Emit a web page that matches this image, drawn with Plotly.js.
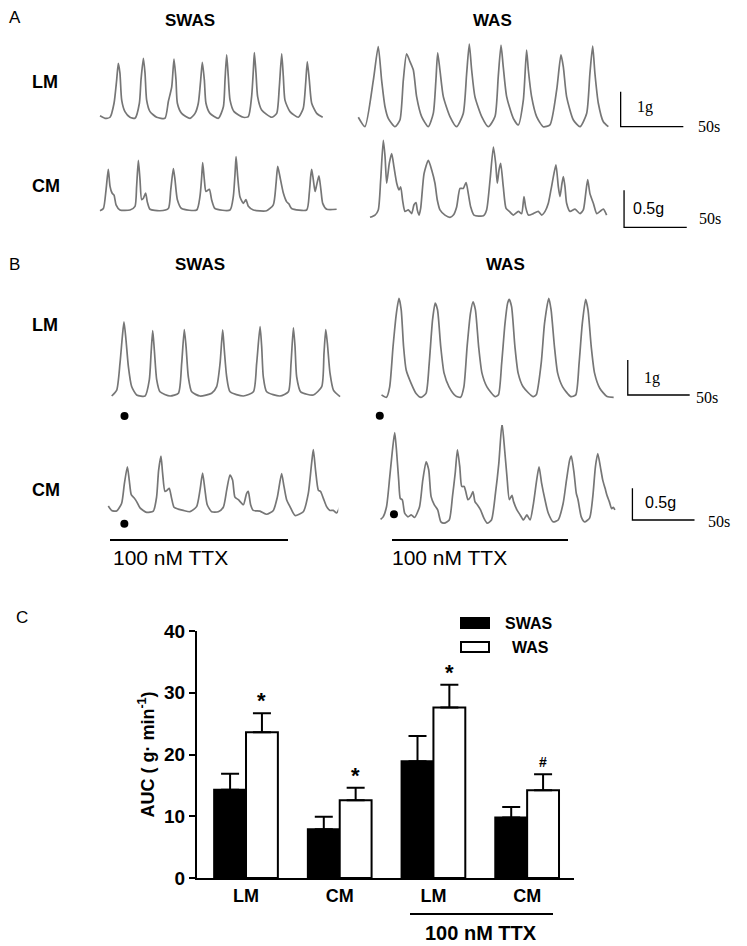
<!DOCTYPE html>
<html><head><meta charset="utf-8">
<script src="https://cdn.plot.ly/plotly-3.0.1.min.js"></script>
<style>html,body{margin:0;padding:0;background:#fff}</style>
</head><body><div id="chart" style="width:747px;height:946px"></div>
<script>
// ---------- Panel A: LM, SWAS (time s, force g)
const aLmSwasT=[0,4.0,8.0,11.2,13.3,14.6,15.9,17.3,19.9,23.9,27.9,31.4,32.7,34.6,35.9,37.2,39.9,45.2,51.8,54.5,57.2,59.0,60.6,61.7,65.1,71.8,75.8,78.4,80.3,81.6,83.2,84.5,87.7,94.4,98.4,99.7,101.0,102.3,103.7,106.9,114.3,118.3,120.9,122.3,123.1,124.4,125.7,128.9,136.9,140.9,143.0,144.9,146.2,147.5,151.5,158.2,162.1,164.0,165.3,166.9,168.8,172.8,177.6];
const aLmSwasG=[0.07,0,0.03,0.43,1.10,1.57,1.29,0.52,0.19,0.03,0,0.43,1.10,1.71,1.29,0.52,0.19,0.03,0,0.48,0.90,1.69,1.10,0.43,0.14,0,0.14,0.43,1.10,1.60,1.10,0.43,0.14,0,0.33,1.10,1.81,1.19,0.52,0.19,0.03,0.05,0.62,1.38,1.88,1.29,0.62,0.24,0.03,0.14,0.90,1.84,1.19,0.52,0.19,0.03,0.29,1.00,1.62,1.10,0.43,0.14,0.03];
// ---------- Panel A: LM, WAS
const aLmWasT=[0,5.3,12.0,15.9,18.6,21.3,23.9,29.2,33.2,35.9,38.5,41.2,43.9,46.5,50.5,55.8,59.8,61.9,63.3,65.1,67.8,73.1,78.4,83.7,86.4,88.5,90.4,93.0,98.4,103.7,109.0,111.6,113.8,115.6,118.3,123.6,127.6,131.6,134.2,135.6,138.2,142.2,147.5,152.8,158.2,161.6,163.5,166.1,171.5,176.8,182.1,184.7,186.9,188.7,191.4,195.4,199.4];
const aLmWasG=[0.27,0,1.33,2.29,1.33,0.57,0.24,0,0.19,1.33,2.08,1.86,1.62,0.86,0.29,0,0.38,1.33,2.11,1.62,0.86,0.29,0,0.38,1.52,2.36,1.62,0.86,0.29,0,0.29,1.43,2.33,1.71,0.86,0.24,0.05,0.76,2.19,1.62,0.86,0.29,0,0.05,1.05,2.05,1.71,0.86,0.19,0,0.38,1.52,2.30,1.52,0.67,0.14,0];
// ---------- Panel A: CM, SWAS
const aCmSwasT=[0,2.7,4.8,6.6,8.0,9.6,11.2,12.8,15.9,23.9,27.9,29.2,30.6,31.9,33.2,34.6,36.4,37.7,39.9,47.8,54.5,56.4,58.5,59.8,61.7,65.1,77.1,79.7,81.1,81.9,83.2,84.5,87.2,89.0,91.7,103.7,106.3,107.7,108.5,109.8,111.6,114.3,116.4,118.3,122.3,132.9,138.2,140.4,141.7,143.5,146.2,148.9,150.7,152.8,164.8,166.9,168.0,168.8,170.1,171.5,172.8,174.6,176.2,177.6,180.8,188.7];
const aCmSwasG=[-0.01,0.02,0.27,0.55,0.32,0.23,0.20,0.07,0,0,0.05,0.32,0.67,0.41,0.14,0.16,0.23,0.11,0.01,-0.01,0.02,0.27,0.56,0.41,0.14,0.02,0,0.18,0.45,0.64,0.41,0.25,0.28,0.14,0.02,0,0.18,0.50,0.72,0.45,0.18,0.09,0.14,0.05,0,-0.01,0.07,0.36,0.59,0.45,0.23,0.11,0.08,0.02,0,0.23,0.45,0.55,0.41,0.25,0.34,0.46,0.27,0.09,0.01,0.01];
// ---------- Panel A: CM, WAS
const aCmWasT=[0,4.0,6.6,8.5,10.6,12.0,13.3,15.4,17.3,19.1,21.3,23.1,24.5,26.0,27.9,30.6,33.2,35.1,36.7,37.7,39.1,40.4,43.1,46.5,49.2,51.8,53.7,55.8,59.8,63.8,66.5,69.1,71.8,74.4,76.6,78.4,80.3,82.9,90.4,93.0,95.7,98.4,100.2,101.5,102.9,104.2,106.3,108.5,111.1,114.3,118.3,120.9,122.8,124.1,126.3,130.2,134.2,136.9,139.6,142.2,144.3,146.7,148.3,150.2,151.5,153.1,154.2,155.5,156.8,159.5,163.5,167.5,170.1,172.0,173.6,175.4,178.1,180.8,183.4,186.1,188.7];
const aCmWasG=[0,0.03,0.10,0.50,1.04,0.82,0.46,0.73,0.86,0.68,0.46,0.37,0.41,0.23,0.08,0.10,0.05,0.17,0.20,0.10,0.03,0.12,0.59,0.77,0.64,0.46,0.23,0.10,0.03,0,0.03,0.14,0.39,0.39,0.47,0.32,0.14,0.03,0.02,0.10,0.50,0.95,0.73,0.46,0.64,0.73,0.41,0.12,0.08,0.03,0.08,0.05,0.28,0.14,0.03,0.05,0.08,0.03,0.08,0.19,0.37,0.59,0.71,0.41,0.28,0.46,0.55,0.41,0.19,0.08,0.11,0.05,0.10,0.32,0.51,0.32,0.19,0.05,0.08,0.11,0.03];
// ---------- Panel B: LM, SWAS (TTX)
const bLmSwasT=[0,4.0,6.6,8.5,9.8,11.4,13.3,15.9,19.9,26.6,30.0,31.4,32.7,34.0,35.9,38.5,46.5,53.2,55.8,57.9,59.3,61.1,63.8,70.4,79.7,83.7,86.4,88.5,89.8,91.7,94.4,105.0,113.0,115.6,118.3,119.6,120.9,123.6,134.2,140.9,143.0,144.9,146.2,147.5,150.7,160.8,167.5,169.3,170.7,172.0,174.1,176.8,182.1];
const bLmSwasG=[0,0.17,0.93,1.70,2.12,1.60,0.84,0.27,0.03,0,0.46,1.22,1.87,1.31,0.46,0.12,0,0.08,0.93,1.90,1.41,0.55,0.12,0,0.08,0.27,0.93,1.89,1.31,0.55,0.12,0,0.12,0.93,1.98,1.41,0.55,0.12,0,0.12,0.93,1.95,1.41,0.55,0.12,0.03,0.27,1.22,1.90,1.50,0.65,0.17,-0.02];
// ---------- Panel B: LM, WAS (TTX)
const bLmWasT=[0,4.0,6.6,9.3,12.0,14.1,15.9,17.8,19.9,23.9,27.9,31.9,35.9,38.5,41.2,43.3,45.2,47.8,50.5,54.5,59.8,63.8,66.5,69.1,71.8,73.9,75.8,78.4,81.1,85.1,91.7,94.4,97.0,99.7,101.8,103.1,105.0,107.7,110.3,114.3,122.3,124.9,128.9,131.6,135.0,136.9,139.6,142.2,146.2,152.8,156.8,159.5,162.1,164.8,166.7,169.3,172.0,176.2,182.1,187.4];
const bLmWasG=[0.07,0,0.30,1.45,2.40,2.83,2.50,1.45,0.78,0.40,0.11,0,0.11,0.97,2.21,2.69,2.50,1.45,0.69,0.30,0.04,0,0.30,1.45,2.40,2.73,2.50,1.45,0.69,0.30,0.02,0.07,0.97,2.11,2.69,2.80,2.59,1.45,0.69,0.30,0.02,0.07,0.97,2.11,2.83,2.50,1.45,0.69,0.30,0.02,0.07,0.97,2.11,2.80,2.50,1.45,0.69,0.26,0.02,0];
// ---------- Panel B: CM, SWAS (TTX)
const bCmSwasT=[0,2.7,6.6,10.6,12.8,15.2,16.7,18.3,20.5,22.6,25.3,30.6,35.9,38.5,40.1,42.0,43.3,45.2,47.0,48.6,50.5,52.4,55.8,59.8,65.1,70.4,73.1,75.2,77.1,78.9,82.4,87.7,91.7,94.4,97.0,99.1,101.0,103.7,107.7,110.3,111.6,113.5,115.6,120.9,126.3,131.6,134.8,138.2,140.1,142.2,144.9,148.9,155.5,159.5,162.1,163.5,165.3,167.5,169.3,171.5,174.1,176.8,179.4,182.1,185.3,186.6,187.9,190.1];
const bCmSwasG=[0.09,0.02,0.01,0.13,0.44,0.71,0.50,0.27,0.22,0.16,0.06,-0.01,0.01,0.23,0.65,0.88,0.61,0.32,0.34,0.37,0.21,0.07,0.04,0.02,0,0.08,0.34,0.61,0.34,0.11,0,0,0.07,0.34,0.58,0.50,0.23,0.19,0.11,0.29,0.32,0.11,0.02,0.01,-0.04,0.02,0.23,0.60,0.40,0.19,0.08,-0.06,0,0.29,0.76,0.98,0.65,0.34,0.32,0.21,0.08,0.02,0.02,-0.02,0.11,0.19,0.06,0];
// ---------- Panel B: CM, WAS (TTX)
const bCmWasT=[0,2.1,4.8,7.4,9.6,11.4,12.8,14.6,15.9,17.5,19.4,22.1,24.7,27.4,31.4,34.0,36.7,38.8,40.7,43.3,46.0,48.6,51.3,55.3,57.9,60.1,61.9,63.8,65.4,67.3,68.6,70.4,72.6,74.4,76.0,77.9,80.5,83.2,85.9,89.3,92.5,95.2,97.8,99.9,101.8,103.7,105.8,107.1,109.8,112.4,115.1,117.8,120.4,123.1,125.7,127.6,129.7,132.4,135.0,139.0,143.0,147.0,149.7,152.3,153.6,155.8,157.6,159.0,161.6,164.3,168.3,170.9,173.0,174.9,177.0,178.9,180.8,182.3,184.2,186.1,187.4,188.7];
const bCmWasG=[0.01,0.05,0.21,0.68,1.11,1.38,1.11,0.63,0.34,0.32,0.11,0.05,0.08,0.04,0.21,0.63,0.92,0.79,0.37,0.24,0.16,-0.03,-0.05,0,0.37,0.74,1.11,0.84,0.53,0.53,0.45,0.32,0.37,0.45,0.29,0.24,0.16,0.03,-0.05,0,0.42,0.89,1.53,1.11,0.68,0.32,0.39,0.29,0.16,0.08,0,0.08,0,0.26,0.63,0.84,0.58,0.32,0.11,-0.03,0,0.26,0.63,0.95,1.01,0.74,0.42,0.32,0.05,-0.03,0.03,0.37,0.84,1.05,0.84,0.63,0.50,0.39,0.29,0.18,0.20,0.16];
// ---------- Panel C: AUC (g·min-1)
const cTickText=['LM','CM','LM','CM'];
const cX=[0,1,2,3];
const swasMean=[14.3,7.9,18.9,9.8];
const swasErr=[2.6,2.0,4.1,1.7];
const wasMean=[23.6,12.6,27.6,14.2];
const wasErr=[3.1,2.0,3.7,2.6];
const noErr=[0,0,0,0];
const wasMarks=['*','*','*','#'];

// ---------- layout helpers
const W=747,H=946;
const FONT='Arial, "Liberation Sans", Helvetica, sans-serif';
const SERIF='"Times New Roman", "Liberation Serif", serif';
const PXS=1.254; // px per second (50 s scale bar)
const TRACE='#767676';
const layout={width:W,height:H,margin:{l:0,r:0,t:0,b:0},paper_bgcolor:'#fff',plot_bgcolor:'rgba(0,0,0,0)',showlegend:false,annotations:[],shapes:[]};
const data=[];
function panel(n,ox,oy,pxg,left,right,up,down){
  layout['xaxis'+n]={domain:[(ox-left)/W,(ox+right)/W],range:[-left/PXS,right/PXS],visible:false,fixedrange:true,anchor:'y'+n};
  layout['yaxis'+n]={domain:[1-(oy+down)/H,1-(oy-up)/H],range:[-down/pxg,up/pxg],visible:false,fixedrange:true,anchor:'x'+n};
}
function trace(n,t,g){data.push({type:'scatter',mode:'lines',x:t,y:g,xaxis:'x'+n,yaxis:'y'+n,line:{color:TRACE,width:1.7,shape:'spline',smoothing:0.6},hoverinfo:'skip'});}
function scaleBar(n,t0,g0,gLen,tLen,gText,tx,ty,sx,sy,gFont){
  data.push({type:'scatter',mode:'lines',x:[t0,t0,t0+tLen],y:[g0+gLen,g0,g0],xaxis:'x'+n,yaxis:'y'+n,line:{color:'#000',width:1.3},hoverinfo:'skip'});
  layout.annotations.push({xref:'x'+n,yref:'y'+n,x:tx,y:ty,text:gText,showarrow:false,xanchor:'left',yanchor:'middle',font:{family:gFont,size:16,color:'#000'}});
  layout.annotations.push({xref:'x'+n,yref:'y'+n,x:sx,y:sy,text:'50s',showarrow:false,xanchor:'left',yanchor:'middle',font:{family:SERIF,size:16,color:'#000'}});
}
function dot(n,t,g){data.push({type:'scatter',mode:'markers',x:[t],y:[g],xaxis:'x'+n,yaxis:'y'+n,marker:{color:'#000',size:8},cliponaxis:false,hoverinfo:'skip'});}
function label(text,x,y,size,bold,xanchor){layout.annotations.push({xref:'paper',yref:'paper',x:x/W,y:1-y/H,text:text,showarrow:false,xanchor:xanchor||'center',yanchor:'middle',font:{family:FONT,size:size,color:'#000',weight:bold?'bold':'normal'}});}
function pline(x0,y0,x1,y1,w){layout.shapes.push({type:'line',xref:'paper',yref:'paper',x0:x0/W,y0:1-y0/H,x1:x1/W,y1:1-y1/H,line:{color:'#000',width:w}});}
function prect(x0,y0,x1,y1,fill){layout.shapes.push({type:'rect',xref:'paper',yref:'paper',x0:x0/W,y0:1-y0/H,x1:x1/W,y1:1-y1/H,fillcolor:fill,line:{color:'#000',width:2}});}

// ---------- panels A and B
panel(2,100,118.3,35,5,240,75,10);   trace(2,aLmSwasT,aLmSwasG);
panel(3,358.3,126.7,35,5,385,95,10); trace(3,aLmWasT,aLmWasG);
scaleBar(3,209.2,0,1,50,'1g',221,0.55,269,0,SERIF);
panel(4,100,210,74,5,240,60,10);     trace(4,aCmSwasT,aCmSwasG);
panel(5,370,217.3,74,5,375,85,14);   trace(5,aCmWasT,aCmWasG);
scaleBar(5,202.6,-0.135,0.5,50,'0.5g',208,0.12,261,-0.01,FONT);
panel(6,111.7,396,35,15,230,85,30);  trace(6,bLmSwasT,bLmSwasG); dot(6,10.2,-0.57);
panel(7,381.7,397.3,35,15,370,110,30); trace(7,bLmWasT,bLmWasG); dot(7,-1.4,-0.53);
scaleBar(7,198.8,0.066,1,50,'1g',210,0.55,252,0.0,SERIF);
panel(8,108.3,511.7,63.3,15,230,75,20); trace(8,bCmSwasT,bCmSwasG); dot(8,12.8,-0.19);
panel(9,380.7,520,63.3,15,370,95,20);  trace(9,bCmWasT,bCmWasG); dot(9,10.8,0.09);
scaleBar(9,202.8,0,0.5,50,'0.5g',211,0.27,262,-0.02,FONT);

// ---------- panel labels
label('A',7,18,17,false,'left');
label('SWAS',190,20,17,true);
label('WAS',492,20,17,true);
label('LM',30,82,18,true,'left');
label('CM',30,186,18,true,'left');
label('B',7,265,17,false,'left');
label('SWAS',200,265,17,true);
label('WAS',505,265,17,true);
label('LM',30,325,18,true,'left');
label('CM',30,490,18,true,'left');
pline(110,540,288,540,2);
pline(392,540,568,540,2);
label('100 nM TTX',111,557,21,false,'left');
label('100 nM TTX',390,557,21,false,'left');
label('C',14,617,17,false,'left');

// ---------- panel C bar chart
layout.xaxis={domain:[197/W,574/W],range:[-0.523,3.5],showline:true,linecolor:'#000',linewidth:2,ticks:'',tickvals:cX,ticktext:cTickText,tickfont:{family:FONT,size:18,color:'#000',weight:'bold'},showgrid:false,zeroline:false,fixedrange:true,anchor:'y'};
layout.yaxis={domain:[1-878/H,1-631/H],range:[0,40],dtick:10,showline:true,linecolor:'#000',linewidth:2,ticks:'outside',ticklen:6,tickwidth:2,tickcolor:'#000',tickfont:{family:FONT,size:19,color:'#000',weight:'bold'},showgrid:false,zeroline:false,fixedrange:true,anchor:'x',
  title:{text:'AUC ( g· min<sup>-1</sup>)',font:{family:FONT,size:18,color:'#000',weight:'bold'},standoff:5}};
layout.bargap=0.32; layout.barmode='group';
data.push({type:'bar',name:'SWAS',x:cX,y:swasMean,marker:{color:'#000',line:{color:'#000',width:2}},error_y:{type:'data',symmetric:false,array:swasErr,arrayminus:noErr,color:'#000',thickness:2,width:9},hoverinfo:'skip'});
data.push({type:'bar',name:'WAS',x:cX,y:wasMean,marker:{color:'#fff',line:{color:'#000',width:2}},error_y:{type:'data',symmetric:false,array:wasErr,arrayminus:noErr,color:'#000',thickness:2,width:9},hoverinfo:'skip'});
cX.forEach(function(c,i){
  layout.annotations.push({xref:'x',yref:'y',x:c+0.17,y:wasMean[i]+wasErr[i],text:wasMarks[i],showarrow:false,xanchor:'center',yanchor:'bottom',yshift:wasMarks[i]==='#'?2:-2,font:{family:FONT,size:wasMarks[i]==='#'?14:22,color:'#000',weight:'bold'}});
});
// legend
prect(461,618,489,628,'#000');
prect(461,642,489,652,'#fff');
label('SWAS',503,623,16,true,'left');
label('WAS',510,647,16,true,'left');
// TTX grouping line
pline(410,914,553,914,2);
label('100 nM TTX',481,933,20,true);

Plotly.newPlot('chart',data,layout,{displayModeBar:false,staticPlot:true});
</script></body></html>
